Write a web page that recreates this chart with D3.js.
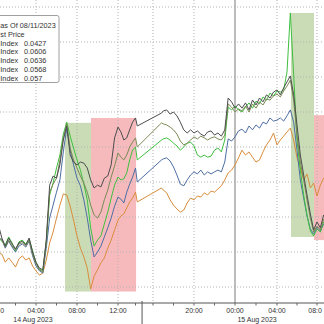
<!DOCTYPE html>
<html>
<head>
<meta charset="utf-8">
<script src="https://cdn.jsdelivr.net/npm/d3@7"></script>
<style>
  body { margin: 0; background: #fff; }
  svg { display: block; font-family: "Liberation Sans", Arial, sans-serif; }
</style>
</head>
<body>
<div id="chart-area"></div>
<script>
// minutes after 14 Aug 2023 00:00 (gap between the sessions)
const minutes = [0,20,40,60,80,100,120,140,160,180,200,220,240,260,280,300,320,340,360,380,
  400,420,440,460,480,500,520,540,560,580,600,620,640,660,680,700,720,740,760,780,800,820,840,852,
  1010,1020,1040,1060,1080,1100,1120,1140,1160,1180,1200,1220,1240,1260,1280,1300,1320,1340,1360,1380,
  1400,1420,1440,1460,1480,1500,1520,1540,1560,1580,1600,1620,1640,1660,1680,1700,1720,1740,1760,1780,
  1800,1820,1840,1860,1880,1900,1920,1940,1960]

const s1 = [-26.6,-22.3,-26.0,-28.3,-26.0,-27.7,-29.1,-27.4,-26.9,-28.0,-26.0,-30.0,-32.9,-34.6,-35.1,-26.6,-10.9,-8.3,-8.9,-5.1,
  2.0,6.0,-2.3,-4.3,-5.1,-4.3,-4.6,-6.0,-9.4,-11.7,-10.9,-11.4,-8.9,-8.3,-5.1,2.6,5.7,4.3,2.0,2.6,4.9,7.1,8.3,6.0,
  9.7,10.3,10.6,9.4,10.0,8.9,7.1,4.9,4.0,4.9,4.0,4.6,3.7,3.1,4.3,4.6,3.4,4.0,3.1,4.9,
  14.0,12.9,11.1,12.3,11.1,12.6,10.6,13.4,12.0,14.0,12.9,14.9,14.0,15.7,16.3,14.9,16.9,18.6,20.3,14.9,
  6.3,-2.3,-8.0,-13.7,-19.1,-23.7,-21.4,-23.1,-19.4]
const s2 = [-26.9,-25.7,-26.6,-28.6,-26.6,-28.3,-29.4,-27.7,-27.4,-28.3,-26.6,-30.6,-33.4,-35.1,-35.7,-27.1,-12.9,-10.6,-8.9,-3.7,
  2.6,6.6,-0.3,-3.7,-6.0,-8.3,-10.3,-12.9,-16.6,-19.4,-20.3,-18.6,-15.1,-12.3,-8.6,-5.4,-1.7,-2.9,-3.7,-2.3,0.0,1.4,2.6,0.0,
  6.9,6.6,6.3,5.7,4.9,3.7,1.7,0.6,1.1,2.0,2.9,2.3,3.1,2.6,2.0,2.6,2.9,2.3,2.0,3.4,
  12.3,11.4,10.0,10.9,10.3,11.7,10.0,12.3,11.1,12.9,12.0,13.7,13.4,14.6,15.1,14.3,16.0,17.4,19.1,13.4,
  3.4,-4.3,-9.4,-15.1,-20.3,-24.3,-22.6,-23.7,-20.6]
const s3 = [-26.3,-26.0,-26.9,-28.0,-25.7,-27.4,-29.7,-27.1,-26.6,-27.7,-26.3,-29.7,-33.1,-34.9,-35.4,-27.4,-13.7,-10.3,-6.0,-2.3,
  3.7,7.1,3.1,-0.3,-3.7,-6.6,-10.6,-15.1,-23.1,-28.3,-26.6,-25.4,-22.0,-18.6,-14.6,-10.9,-8.6,-9.4,-9.1,-7.4,-3.7,-0.9,0.0,-3.7,
  2.0,2.3,2.6,2.0,1.1,0.3,-0.9,0.0,1.1,1.4,0.3,-2.3,-2.9,-2.3,-2.9,-2.6,-0.9,-0.3,-1.4,2.0,
  11.4,10.6,11.7,10.6,10.0,11.4,12.6,11.1,13.1,12.3,14.3,13.4,15.4,14.6,16.0,15.7,16.3,21.4,38.3,20.6,
  2.0,-6.6,-13.7,-19.4,-24.0,-25.4,-23.4,-24.3,-21.4]
const s4 = [-27.1,-26.3,-26.3,-28.9,-26.9,-28.6,-30.0,-28.3,-27.7,-28.6,-26.9,-31.1,-34.0,-35.4,-36.0,-28.9,-20.3,-16.6,-12.9,-9.4,
  -1.4,5.4,-0.9,-5.1,-8.9,-11.1,-15.1,-20.3,-26.6,-31.4,-30.0,-28.3,-25.7,-23.1,-20.3,-16.9,-14.3,-14.9,-16.0,-12.9,-10.6,-8.6,-6.0,-10.0,
  -3.7,-3.4,-3.1,-4.0,-5.7,-8.0,-10.6,-11.1,-9.4,-8.0,-7.1,-7.7,-6.6,-8.0,-7.1,-7.7,-7.1,-6.6,-7.1,-4.3,
  2.3,1.7,2.9,4.6,5.1,4.0,6.0,4.9,6.3,5.4,7.1,6.6,8.3,7.4,7.7,8.3,7.4,8.9,10.6,7.1,
  -0.9,-9.4,-14.6,-19.7,-23.4,-24.9,-22.9,-24.0,-22.0]
const s5 = [-30.9,-30.3,-30.6,-32.9,-31.7,-32.9,-34.3,-32.0,-31.1,-32.3,-31.7,-34.0,-35.4,-36.6,-36.0,-32.3,-27.4,-24.3,-20.3,-16.6,
  -13.4,-13.7,-16.9,-20.9,-25.4,-28.9,-31.4,-34.6,-40.6,-36.9,-35.1,-33.1,-31.7,-28.9,-26.6,-23.7,-20.9,-19.7,-19.1,-17.4,-15.7,-14.6,-12.9,-15.7,
  -11.7,-12.3,-13.1,-15.1,-16.6,-17.7,-18.6,-18.0,-16.0,-14.6,-15.1,-14.0,-14.3,-13.1,-13.7,-12.6,-12.9,-12.0,-11.1,-9.4,
  -7.4,-6.6,-5.1,-3.1,-0.9,-2.3,-1.4,-2.9,-4.3,-3.7,-1.4,0.6,2.0,4.0,0.6,2.0,3.1,4.3,5.4,2.0,
  -3.1,-6.0,-9.4,-7.7,-11.7,-10.3,-14.0,-10.9,-8.9]

const seriesNames = ["GTDEM2Y Index","GTITL2Y Index","GTESP2Y Index","GTFRF2YR Index","GTGBP2YR Index"]
const lastPrices = ["0.0427","0.0606","0.0636","0.0568","0.057"]
const legendTitle = "Prices as Of 08/11/2023"
const legendSub = "Last Price"

const tickMinutes = [0,240,480,720,960,1200,1440,1680,1920]
const tickLabels = ["00:00","04:00","08:00","12:00","","20:00","00:00","04:00","08:00"]
const minorTicks = [120,360,600,840,1080,1320,1560,1800]
const dayBreak = 1440
const sessionBreak = 885
const dateLabels = ["14 Aug 2023","15 Aug 2023"]
const dateLabelAt = [222,1566]
const yTicks = [-40,-30,-20,-10,0,10,20,30,40]

// shaded boxes
const bandFrom = [410,562,1764,1902]
const bandTo = [562,844,1902,2000]
const bandTop = [6.9,8.3,38.3,9.1]
const bandBottom = [-41.3,-41.3,-25.7,-26.6]
const bandKind = ["up","down","up","down"]

const W = 324, H = 324, AXIS_Y = 303
const COLORS = ["#4d4d4d","#7b8a55","#3fbf3f","#4e6ea3","#d98d3c"]
const BAND_FILL = {up:"#cadcb6", down:"#f6babd"}

const svg = d3.select("#chart-area").append("svg")
  .attr("width", W).attr("height", H)

const x = d3.scaleLinear()
  .domain(tickMinutes)
  .range([-5,36,77,118,153,194,235,277,317])
const y = d3.scaleLinear().domain([-40,40]).range([287,7])

// bands
svg.append("g").selectAll("rect")
  .data(bandFrom.map((d,i) => ({from:d, to:bandTo[i], top:bandTop[i], bottom:bandBottom[i], kind:bandKind[i]})))
  .enter().append("rect")
    .attr("x", d => x(d.from))
    .attr("width", d => x(d.to) - x(d.from))
    .attr("y", d => y(d.top))
    .attr("height", d => y(d.bottom) - y(d.top))
    .attr("fill", d => BAND_FILL[d.kind])

// grid
const grid = svg.append("g")
grid.selectAll(".hg").data(yTicks).enter().append("line")
  .attr("x1", 0).attr("x2", W)
  .attr("y1", d => y(d)).attr("y2", d => y(d))
  .attr("stroke", "#b3b3b3").attr("stroke-dasharray", "1,2")
grid.selectAll(".vg").data(tickMinutes).enter().append("line")
  .attr("x1", d => x(d)).attr("x2", d => x(d))
  .attr("y1", 0).attr("y2", AXIS_Y)
  .attr("stroke", d => d === dayBreak ? "#a6a6a6" : "#b3b3b3")
  .attr("stroke-width", d => d === dayBreak ? 1.5 : 1)
  .attr("stroke-dasharray", d => d === dayBreak ? null : "1,2")

// series
const allSeries = [s1,s2,s3,s4,s5]
const line = d3.line()
  .x((d,i) => x(minutes[i]))
  .y(d => y(d))
svg.append("g").selectAll("path")
  .data(allSeries.slice().reverse())
  .enter().append("path")
    .attr("d", line)
    .attr("fill", "none")
    .attr("stroke", (d,i) => COLORS[4 - i])
    .attr("stroke-width", 1)
    .attr("stroke-linejoin", "round")

// legend
const lg = svg.append("g").attr("font-size", 7.3).attr("fill", "#333")
lg.append("rect")
  .attr("x", -10).attr("y", 15.5).attr("width", 69).attr("height", 67)
  .attr("rx", 2).attr("fill", "#fff").attr("stroke", "#a0a0a0")
lg.append("text").attr("x", 53).attr("y", 28).attr("text-anchor", "end").text(legendTitle)
lg.append("text").attr("x", 23.5).attr("y", 36.8).attr("text-anchor", "end").text(legendSub)
seriesNames.forEach((name, i) => {
  lg.append("text").attr("x", i < 3 ? 17.5 : 19.5).attr("y", 45.6 + i*8.8)
    .attr("text-anchor", "end").text(name)
  lg.append("text").attr("x", 24).attr("y", 45.6 + i*8.8).text(lastPrices[i])
})

// x axis
const ax = svg.append("g")
ax.append("line").attr("x1", 0).attr("x2", W).attr("y1", AXIS_Y).attr("y2", AXIS_Y)
  .attr("stroke", "#555")
ax.selectAll(".mt").data(tickMinutes.concat(minorTicks)).enter().append("line")
  .attr("x1", d => x(d)).attr("x2", d => x(d))
  .attr("y1", AXIS_Y).attr("y2", AXIS_Y + 2.5)
  .attr("stroke", "#666")
ax.append("line")
  .attr("x1", x(sessionBreak)).attr("x2", x(sessionBreak))
  .attr("y1", AXIS_Y - 2).attr("y2", H)
  .attr("stroke", "#555")
ax.selectAll(".tl").data(tickMinutes).enter().append("text")
  .attr("x", d => x(d)).attr("y", 312.5)
  .attr("text-anchor", "middle").attr("font-size", 7).attr("fill", "#333")
  .text((d,i) => tickLabels[i])
ax.selectAll(".dl").data(dateLabels).enter().append("text")
  .attr("x", (d,i) => x(dateLabelAt[i])).attr("y", 321.5)
  .attr("text-anchor", "middle").attr("font-size", 7).attr("fill", "#333")
  .text(d => d)

// the picture is a crop: keep only the characters that show inside the frame
svg.selectAll("text").each(function() {
  const t = d3.select(this)
  const full = t.text()
  const n = full.length
  if (!n) return
  let first = 0, last = n
  for (let i = 0; i < n; i++) if (this.getEndPositionOfChar(i).x <= 0) first = i + 1
  for (let i = n - 1; i >= first; i--) if (this.getEndPositionOfChar(i).x > W) last = i
  if (first === 0 && last === n) return
  const sx = this.getStartPositionOfChar(Math.min(first, n - 1)).x
  t.attr("text-anchor", "start").attr("x", Math.max(0.3, sx)).text(full.slice(first, last))
})
</script>
</body>
</html>
